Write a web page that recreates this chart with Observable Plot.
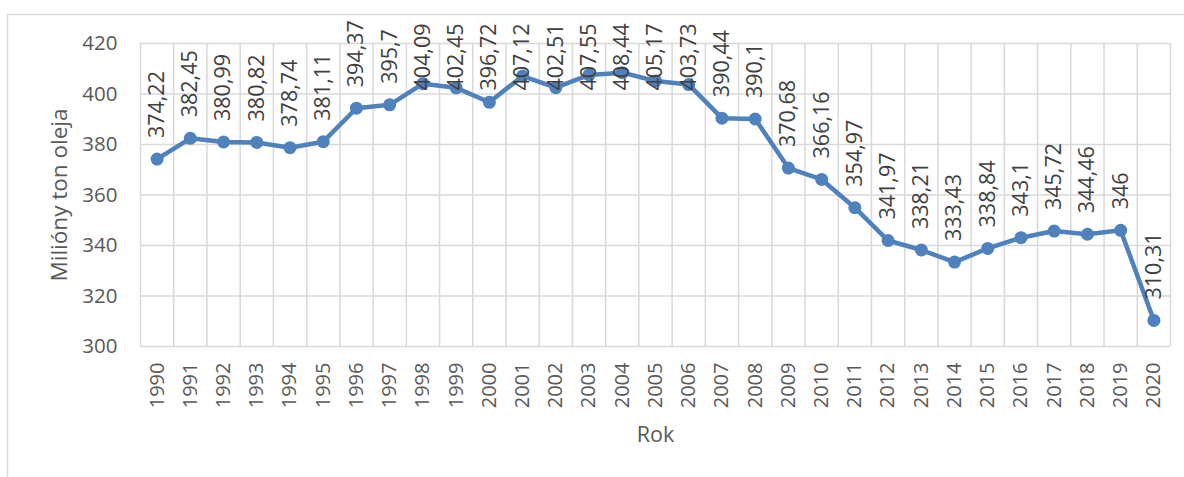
<!DOCTYPE html>
<html>
<head>
<meta charset="utf-8">
<script src="https://cdn.jsdelivr.net/npm/d3@7"></script>
<script src="https://cdn.jsdelivr.net/npm/@observablehq/plot@0.6"></script>
<style>
  html, body { margin: 0; padding: 0; background: #fff; }
  #chart { width: 1184px; height: 477px; overflow: hidden; }
</style>
</head>
<body>
<div id="chart"></div>
<script>
const years = [1990,1991,1992,1993,1994,1995,1996,1997,1998,1999,2000,2001,2002,2003,2004,2005,2006,2007,2008,2009,2010,2011,2012,2013,2014,2015,2016,2017,2018,2019,2020];
const values = [374.22,382.45,380.99,380.82,378.74,381.11,394.37,395.7,404.09,402.45,396.72,407.12,402.51,407.55,408.44,405.17,403.73,390.44,390.1,370.68,366.16,354.97,341.97,338.21,333.43,338.84,343.1,345.72,344.46,346,310.31];
const yTicks = [300,320,340,360,380,400,420];
const yTitle = "Milióny ton oleja";
const xTitle = "Rok";

const data = years.map((year, i) => ({year, value: values[i], label: String(values[i]).replace(".", ",")}));
const gridX = years.map(y => y - 0.5).concat([years[years.length - 1] + 0.5]);
// labels that Excel pushed down to stay inside the chart area
const topLimited = d => d.value > 396;

const blue = "#4f81bd";
const grid = "#d9d9d9";

const chart = Plot.plot({
  width: 1184,
  height: 477,
  marginLeft: 140,
  marginRight: 14,
  marginTop: 43,
  marginBottom: 131,
  style: {fontFamily: "'Open Sans', sans-serif", fontSize: "20px", background: "#fff", overflow: "visible"},
  x: {type: "linear", domain: [years[0] - 0.5, years[years.length - 1] + 0.5]},
  y: {domain: [300, 420]},
  marks: [
    Plot.frame({stroke: grid, strokeWidth: 1.5, insetLeft: -133, insetTop: -29, insetRight: -40, insetBottom: -200}),
    Plot.ruleY(yTicks, {stroke: grid, strokeWidth: 1.5}),
    Plot.ruleX(gridX, {stroke: grid, strokeWidth: 1.5}),
    Plot.axisY(yTicks, {tickSize: 0, tickPadding: 23, fill: "#595959", label: null, fontSize: 20.5}),
    Plot.axisX(years, {tickSize: 0, tickPadding: 16, tickRotate: -90, tickFormat: d => String(d), fill: "#595959", label: null, fontSize: 20}),
    Plot.text([yTitle], {frameAnchor: "left", dx: -81, rotate: -90, textAnchor: "middle", fill: "#595959", fontSize: 22.5, lineAnchor: "middle"}),
    Plot.text([xTitle], {frameAnchor: "bottom", dy: 89, textAnchor: "middle", fill: "#595959", fontSize: 21.5, lineAnchor: "middle"}),
    Plot.line(data, {x: "year", y: "value", stroke: blue, strokeWidth: 4.5, strokeLinejoin: "round"}),
    Plot.dot(data, {x: "year", y: "value", r: 6.5, fill: blue, stroke: "none"}),
    Plot.text(data.filter(d => !topLimited(d)), {x: "year", y: "value", text: "label", rotate: -90, textAnchor: "start", lineAnchor: "middle", dy: -21, fill: "#404040", fontSize: 21.5}),
    Plot.text(data.filter(topLimited), {x: "year", frameAnchor: "top", text: "label", rotate: -90, textAnchor: "end", lineAnchor: "middle", dy: -20, fill: "#404040", fontSize: 21.5})
  ]
});
document.getElementById("chart").appendChild(chart);
</script>
</body>
</html>
